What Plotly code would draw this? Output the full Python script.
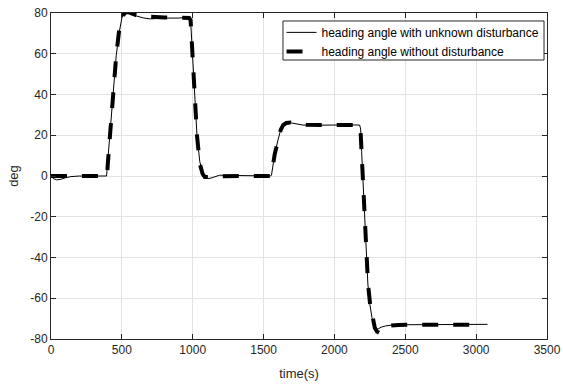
import plotly.graph_objects as go

# heading angle with unknown disturbance (thin solid)
t_dist = [0, 15, 40, 70, 100, 140, 200, 300, 392, 400, 420, 440, 460, 480, 490, 500,
          515, 530, 545, 560, 600, 650, 700, 720, 800, 900, 950, 975, 985, 1000, 1015,
          1030, 1050, 1070, 1090, 1107, 1130, 1160, 1190, 1250, 1350, 1450, 1550, 1556,
          1577, 1600, 1620, 1636, 1660, 1683, 1720, 1777, 1850, 1950, 2050, 2100, 2178,
          2185, 2192, 2202, 2212, 2222, 2236, 2250, 2265, 2280, 2295, 2310, 2330, 2360,
          2400, 2500, 2700, 2900, 3080]
y_dist = [0, -1.2, -1.9, -1.6, -0.9, -0.3, 0, 0, 0, 7, 24, 41, 59, 70, 74, 77.5,
          79.8, 80.6, 80.3, 79.6, 78.6, 77.6, 77.1, 77.2, 77.5, 77.5, 77.8, 77.9, 76.5, 57, 38,
          20, 7, 1.5, -0.8, -1.3, -1.0, -0.2, 0.4, 0.3, 0.1, 0, 0, 0.5,
          10, 17.2, 22.5, 25, 26, 26.2, 25.6, 25, 24.9, 25, 25.3, 25.1, 25,
          23, 12, -4, -20, -36, -53, -63, -69.5, -73.5, -75.5, -75, -74.2, -73.6,
          -73.2, -73, -73, -72.9, -72.8]

# heading angle without disturbance (thick dashed)
t_ref = [0, 395, 402, 420, 440, 460, 480, 495, 510, 525, 540, 560, 600, 650, 700, 800,
         900, 975, 985, 1000, 1015, 1030, 1050, 1070, 1085, 1100, 1120, 1150, 1200, 1400,
         1548, 1556, 1578, 1600, 1620, 1638, 1660, 1690, 1730, 1800, 2000, 2176, 2183,
         2192, 2202, 2212, 2222, 2237, 2252, 2268, 2285, 2300, 2318, 2332, 2350, 2380,
         2450, 2600, 2800, 3000]
y_ref = [0, 0, 7, 24, 41, 59, 71, 76.5, 79, 80.3, 80.5, 80, 79, 78.3, 78, 77.8,
         77.7, 77.6, 76.5, 57, 38, 20, 6, 1, -0.5, -0.6, -0.4, -0.1, 0, 0,
         0, 0.5, 10.5, 17.5, 22.5, 25, 26, 26.2, 25.6, 25.1, 25, 25, 24,
         12, -4, -20, -36, -53, -63, -70, -74.5, -76.3, -77, -76, -74.5, -73.5,
         -73.1, -73, -73, -73]

x_ticks = [0, 500, 1000, 1500, 2000, 2500, 3000, 3500]
y_ticks = [-80, -60, -40, -20, 0, 20, 40, 60, 80]
y_tick_text = ["-80", "-60", "-40", "-20", "0", "20", "40", "60", "80"]

FONT = "Liberation Sans, Arial, Helvetica, sans-serif"
AX = "#262626"
GRID = "#e3e3e3"

fig = go.Figure()
fig.add_trace(go.Scatter(x=t_dist, y=y_dist, mode="lines",
                         name="heading angle with unknown disturbance",
                         line=dict(color="black", width=1)))
fig.add_trace(go.Scatter(x=t_ref, y=y_ref, mode="lines",
                         name="heading angle without disturbance",
                         line=dict(color="black", width=4, dash="16px,15px")))

axis_common = dict(showline=True, linecolor=AX, linewidth=1, mirror="allticks",
                   ticks="inside", ticklen=5, tickcolor=AX, showgrid=True,
                   gridcolor=GRID, gridwidth=1, zeroline=False, automargin=False,
                   ticklabeloverflow="allow",
                   tickfont=dict(family=FONT, size=12, color=AX))

fig.update_xaxes(range=[0, 3500], tickvals=x_ticks,
                 title=dict(text="time(s)", font=dict(family=FONT, size=13, color=AX), standoff=12),
                 **axis_common)
fig.update_yaxes(range=[-80, 80], tickvals=y_ticks, ticktext=y_tick_text,
                 title=dict(text="deg", font=dict(family=FONT, size=13, color=AX), standoff=8),
                 **axis_common)

# legend frame (MATLAB-style compact box) drawn behind the transparent legend
fig.add_shape(type="rect", xref="paper", yref="paper",
              x0=0.4677, x1=0.994, y0=0.8558, y1=0.9755,
              fillcolor="white", line=dict(color=AX, width=1), layer="above")

fig.update_layout(
    width=563, height=386,
    margin=dict(l=51, r=16, t=13, b=47),
    paper_bgcolor="white", plot_bgcolor="white",
    font=dict(family=FONT, color=AX),
    showlegend=True,
    legend=dict(x=0.995, y=0.985, xanchor="right", yanchor="top",
                bgcolor="rgba(0,0,0,0)", borderwidth=0,
                font=dict(family=FONT, size=12, color="black"),
                tracegroupgap=0, itemwidth=30),
)

fig.write_html("out.html", config={"displayModeBar": False},
               post_script="document.body.style.margin='0';")
